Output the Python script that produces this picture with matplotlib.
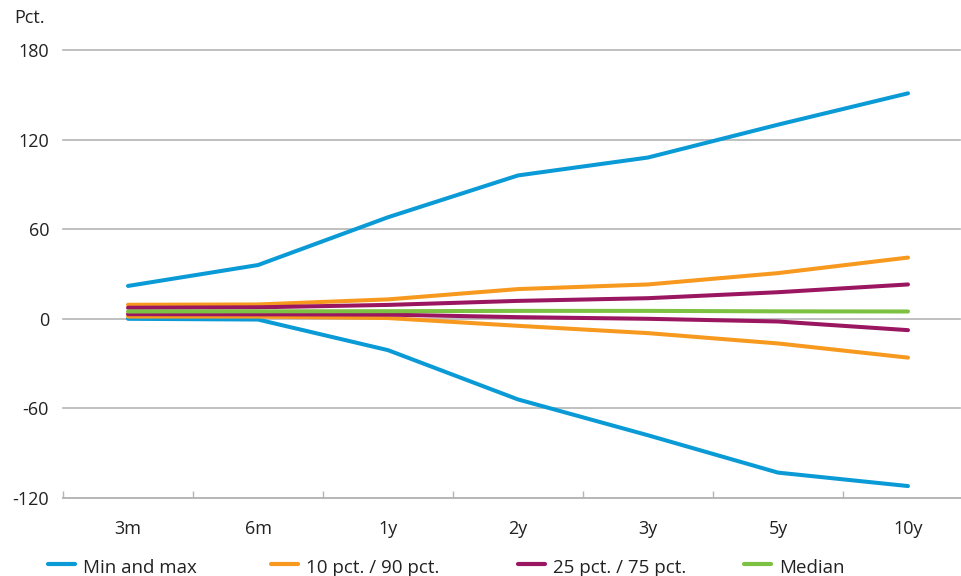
import matplotlib
matplotlib.use("Agg")
import matplotlib.pyplot as plt
from matplotlib.lines import Line2D

plt.rcParams['font.family'] = ['Open Sans', 'DejaVu Sans']

categories = ["3m", "6m", "1y", "2y", "3y", "5y", "10y"]
max_vals = [22, 36, 68, 96, 108, 130, 151]
min_vals = [0, -0.5, -21, -54, -78, -103, -112]
p90_vals = [9.4, 9.6, 13, 19.9, 23, 30.6, 41]
p10_vals = [1.5, 1.5, 0.5, -4.7, -9.6, -16.5, -26]
p75_vals = [7.4, 7.7, 9.3, 12, 13.8, 17.8, 23]
p25_vals = [3.1, 3.0, 2.8, 1.1, 0, -1.8, -7.6]
median_vals = [4.9, 5.0, 5.1, 5.3, 5.3, 5.0, 4.9]
yticks = [-120, -60, 0, 60, 120, 180]

series = [
    ("Min and max", "#0A9AD6", [max_vals, min_vals]),
    ("10 pct. / 90 pct.", "#F7991E", [p90_vals, p10_vals]),
    ("25 pct. / 75 pct.", "#9A1660", [p75_vals, p25_vals]),
    ("Median", "#7DC142", [median_vals]),
]

W, H = 961, 576
fig = plt.figure(figsize=(W / 100, H / 100), dpi=100)
ax = fig.add_axes([63 / W, 1 - 498 / H, 910 / W, (498 - 50) / H])

x = list(range(len(categories)))
for name, color, lines in series:
    for vals in lines:
        ax.plot(x, vals, color=color, lw=2.9, solid_capstyle='round', zorder=3)

ax.set_xlim(-0.5, len(categories) - 0.5)
ax.set_ylim(-120, 180)
ax.set_yticks(yticks)
ax.set_yticklabels([str(v) for v in yticks], fontsize=13, color="#222222")
ax.tick_params(axis='y', length=0, pad=10)
for v in yticks:
    if v != -120:
        ax.axhline(v, color="#B5B5B5", lw=1.2, zorder=1, clip_on=False, xmax=(960 - 63) / 910)

ax.set_xticks(x)
ax.set_xticklabels(categories, fontsize=13, color="#222222")
ax.set_xticks([i - 0.5 for i in range(len(categories))], minor=True)
ax.tick_params(axis='x', which='major', length=0, pad=16)
ax.tick_params(axis='x', which='minor', length=5, width=1, color="#B5B5B5", direction='in')
for s in ['top', 'right', 'left']:
    ax.spines[s].set_visible(False)
ax.spines['bottom'].set_color("#B5B5B5")
ax.spines['bottom'].set_linewidth(1.4)

fig.text(14 / W, 1 - 18 / H, "Pct.", fontsize=13, color="#222222", va='center', ha='left')

# legend
legend_x = [48, 271, 518, 744]
ly = 1 - 568 / H
for (name, color, _), lx in zip(series, legend_x):
    fig.add_artist(Line2D([lx / W, (lx + 27) / W], [ly + 4 / H, ly + 4 / H], color=color, lw=3,
                          solid_capstyle='round', transform=fig.transFigure))
    fig.text((lx + 35) / W, ly, name, fontsize=13.5, color="#222222", va='center', ha='left')

fig.savefig("out.png", dpi=100)
